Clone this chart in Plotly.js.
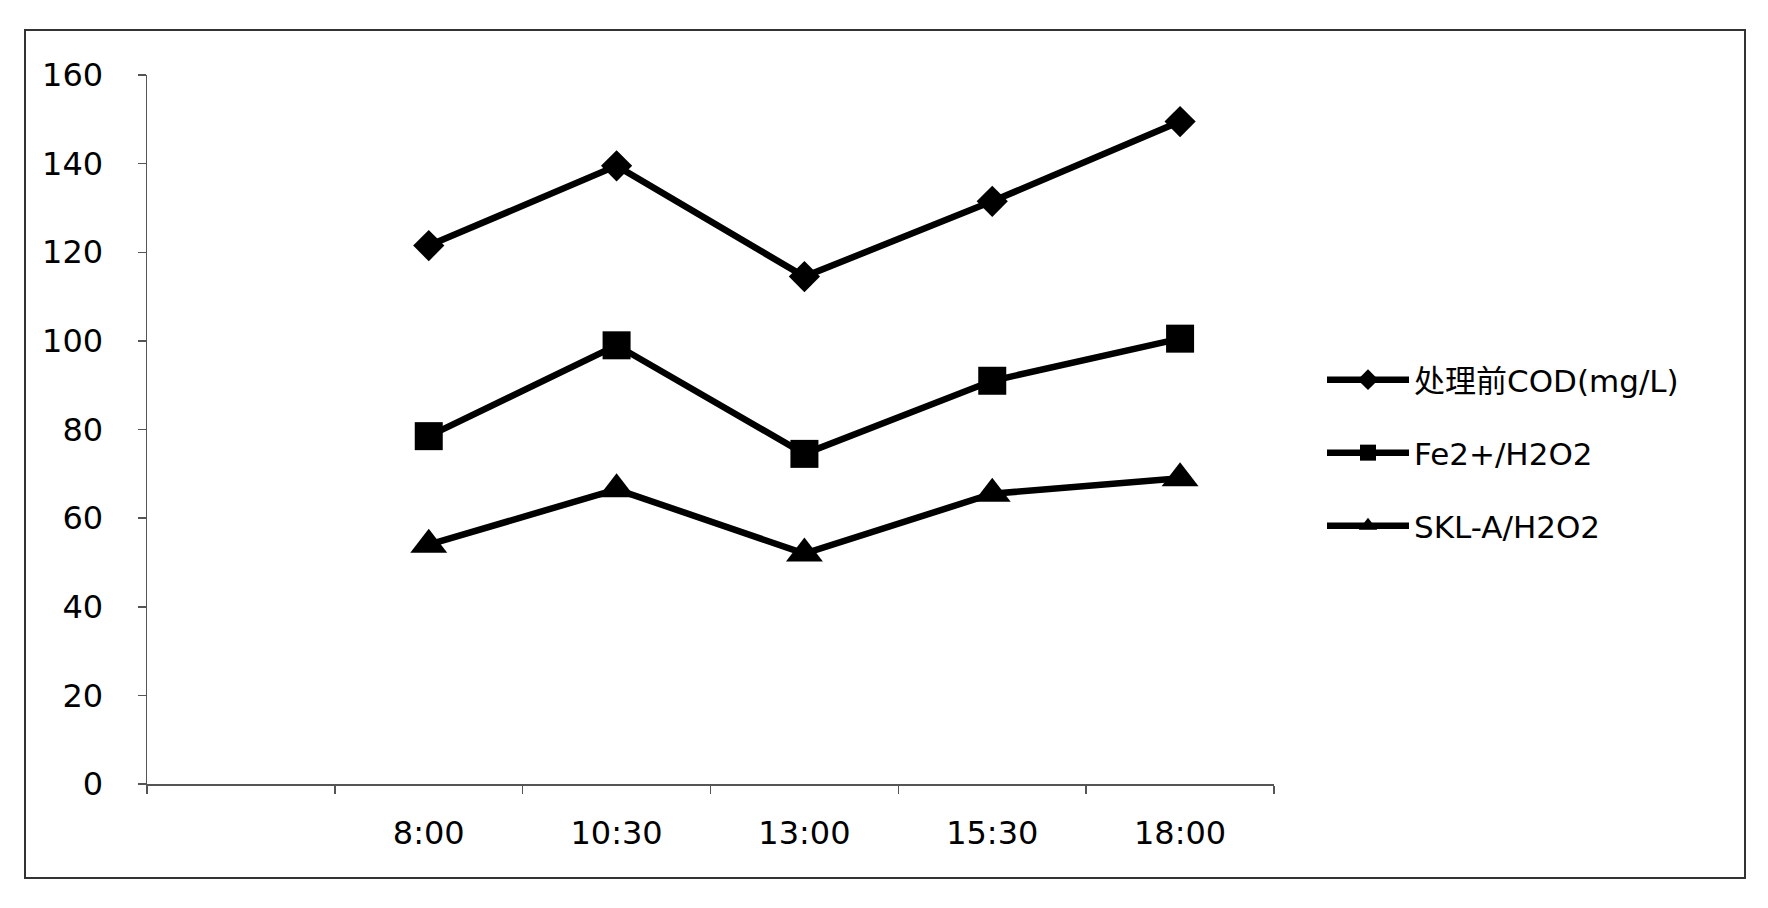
<!DOCTYPE html>
<html>
<head>
<meta charset="utf-8">
<script src="https://cdn.plot.ly/plotly-3.0.1.min.js"></script>
<style>
  html, body { margin: 0; padding: 0; background: #ffffff; }
  #chart { width: 1768px; height: 908px; }
</style>
</head>
<body>
<div id="chart"></div>
<script>
// ---- data ----
const timeLabels = ['8:00', '10:30', '13:00', '15:30', '18:00'];
const blankCategory = ' ';
const seriesNames = ['处理前COD(mg/L)', 'Fe2+/H2O2', 'SKL-A/H2O2'];
const codBefore = [121.5, 139.5, 114.5, 131.5, 149.5];
const feH2O2 = [78.5, 99, 74.5, 91, 100.5];
const sklH2O2 = [54, 66.5, 52, 65.5, 69];
const yTicks = [0, 20, 40, 60, 80, 100, 120, 140, 160];

// ---- layout geometry ----
const W = 1768, H = 908;
const M = { l: 147, r: 494, t: 75, b: 124 };
const plotW = W - M.l - M.r, plotH = H - M.t - M.b;
const px2x = (px) => (px - M.l) / plotW;
const py2y = (py) => (H - M.b - py) / plotH;

const FONT = 'DejaVu Sans, Noto Sans CJK SC, sans-serif';
const INK = '#000000';

const symbols = ['diamond', 'square', 'triangle-up'];
const sizes = [24, 28, 32];
const values = [codBefore, feH2O2, sklH2O2];
const legendIds = ['legend', 'legend2', 'legend3'];
const legendPy = [380, 453, 526];

const traces = values.map((v, i) => ({
  type: 'scatter',
  mode: 'lines+markers',
  name: seriesNames[i],
  x: timeLabels,
  y: v,
  legend: legendIds[i],
  line: { color: INK, width: 6.5 },
  marker: { symbol: symbols[i], size: sizes[i], color: INK, line: { width: 0 } },
  cliponaxis: false,
  hoverinfo: 'x+y+name'
}));

const legendBase = (i) => ({
  x: px2x(1322),
  xanchor: 'left',
  y: py2y(legendPy[i]),
  yanchor: 'middle',
  bgcolor: 'rgba(0,0,0,0)',
  borderwidth: 0,
  itemwidth: 82,
  font: { family: FONT, size: 31, color: INK }
});

const layout = {
  width: W,
  height: H,
  margin: M,
  paper_bgcolor: '#ffffff',
  plot_bgcolor: '#ffffff',
  showlegend: true,
  font: { family: FONT, size: 32, color: INK },
  xaxis: {
    type: 'category',
    categoryorder: 'array',
    categoryarray: [blankCategory].concat(timeLabels),
    range: [-0.5, timeLabels.length + 0.5],
    tickson: 'boundaries',
    ticks: 'outside',
    ticklen: 8,
    tickwidth: 1.5,
    tickcolor: '#555',
    showline: true,
    linecolor: '#555',
    linewidth: 1.5,
    showgrid: false,
    zeroline: false,
    ticklabelstandoff: 20,
    tickfont: { family: FONT, size: 32, color: INK },
    fixedrange: true
  },
  yaxis: {
    range: [yTicks[0], yTicks[yTicks.length - 1]],
    tickvals: yTicks,
    ticks: 'outside',
    ticklen: 8,
    tickwidth: 1.5,
    tickcolor: '#555',
    showline: true,
    linecolor: '#555',
    linewidth: 1.5,
    showgrid: false,
    zeroline: false,
    ticklabelstandoff: 28,
    tickfont: { family: FONT, size: 32, color: INK },
    fixedrange: true
  },
  shapes: [{
    type: 'rect',
    xref: 'paper', yref: 'paper',
    x0: px2x(25), x1: px2x(1745),
    y0: py2y(878), y1: py2y(30),
    line: { color: '#333', width: 2 },
    fillcolor: 'rgba(0,0,0,0)',
    layer: 'below'
  }]
};
legendIds.forEach((id, i) => { layout[id] = legendBase(i); });

Plotly.newPlot('chart', traces, layout, { displayModeBar: false, staticPlot: true });
</script>
</body>
</html>
